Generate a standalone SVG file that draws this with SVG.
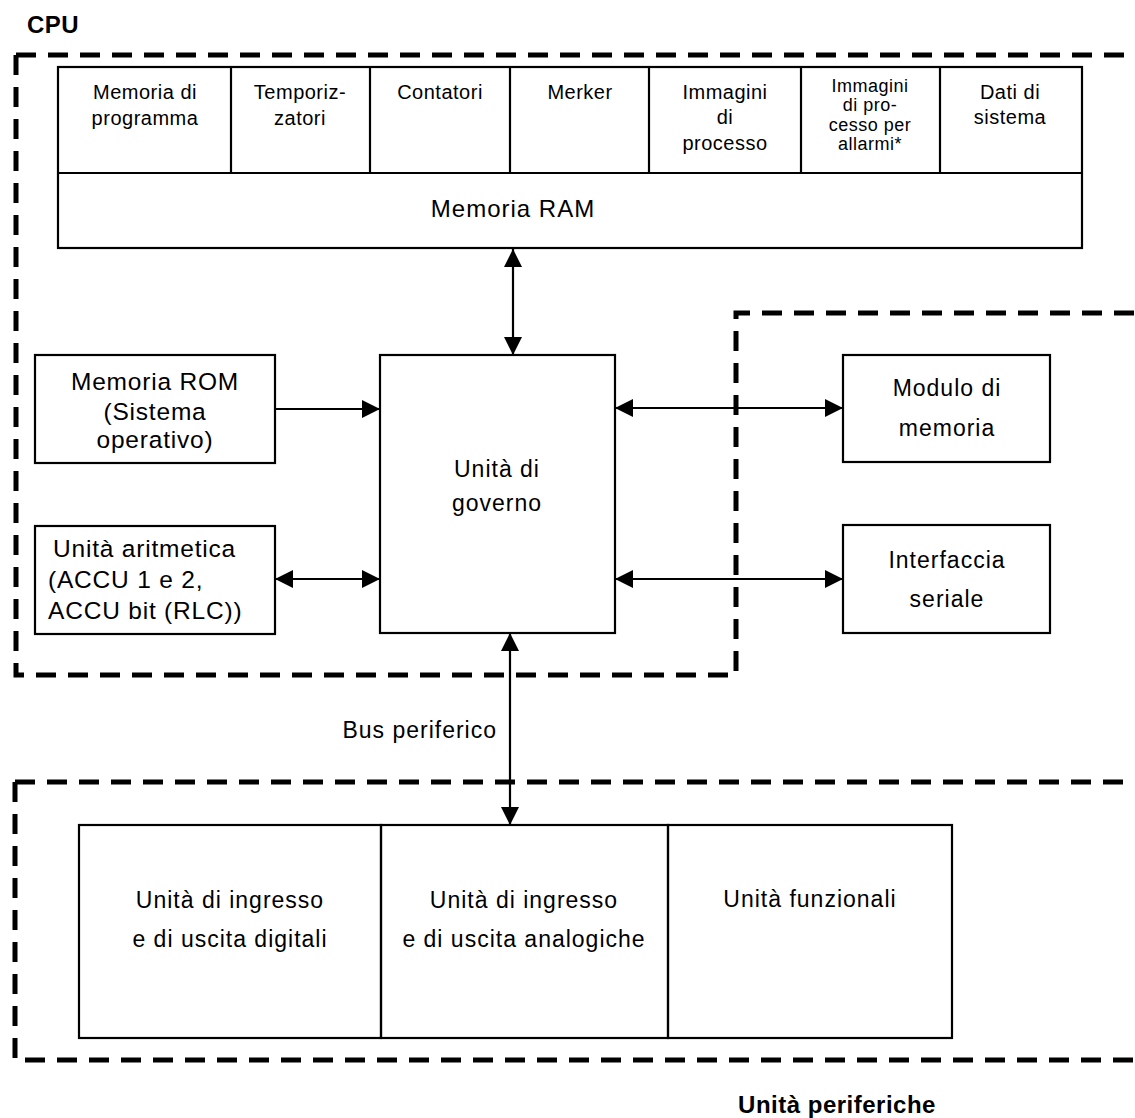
<svg xmlns="http://www.w3.org/2000/svg" width="1135" height="1118" viewBox="0 0 1135 1118">
<style>
  .box{fill:none;stroke:#000;stroke-width:2.2}
  .dash{fill:none;stroke:#000;stroke-width:5;stroke-dasharray:20 12}
  .con{fill:none;stroke:#000;stroke-width:2.2}
  text{font-family:"Liberation Sans",Arial,Helvetica,sans-serif;fill:#000;letter-spacing:0.5px}
  .s19{font-size:20px;text-anchor:middle}
  .s18{font-size:18px;text-anchor:middle}
  .s23{font-size:23px;text-anchor:middle;letter-spacing:1px}
  .s24{font-size:24.5px;letter-spacing:0.8px}
  .b{font-weight:bold;font-size:24px}
</style>
<defs>
  <marker id="ah" markerUnits="userSpaceOnUse" markerWidth="18" markerHeight="18" viewBox="0 0 18 18" refX="18" refY="9" orient="auto-start-reverse">
    <path d="M0,0 L18,9 L0,18 z" fill="#000"/>
  </marker>
</defs>
<rect width="1135" height="1118" fill="#fff"/>

<g id="cpu-frame">
  <path class="dash" d="M16,55 H1135"/>
  <path class="dash" d="M16,55 V675 H736 V313 H1135"/>
  <text class="b" x="27" y="33">CPU</text>
</g>
<g id="periph-frame">
  <path class="dash" d="M15,782 H1135"/>
  <path class="dash" d="M15,782 V1060 H1135"/>
  <text class="b" x="837" y="1113" text-anchor="middle">Unità  periferiche</text>
</g>

<g id="ram">
  <rect class="box" x="58" y="67" width="1024" height="181"/>
  <line class="box" x1="58" y1="173" x2="1082" y2="173"/>
  <text class="s23" x="513" y="217" style="font-size:24px">Memoria RAM</text>
</g>
<g id="cell-programma">
  <text class="s19" x="145" y="99">Memoria di</text>
  <text class="s19" x="145" y="125">programma</text>
</g>
<g id="cell-temporizzatori">
  <line class="box" x1="231" y1="67" x2="231" y2="173"/>
  <text class="s19" x="300" y="99">Temporiz-</text>
  <text class="s19" x="300" y="125">zatori</text>
</g>
<g id="cell-contatori">
  <line class="box" x1="370" y1="67" x2="370" y2="173"/>
  <text class="s19" x="440" y="99">Contatori</text>
</g>
<g id="cell-merker">
  <line class="box" x1="510" y1="67" x2="510" y2="173"/>
  <text class="s19" x="580" y="99">Merker</text>
</g>
<g id="cell-immagini">
  <line class="box" x1="649" y1="67" x2="649" y2="173"/>
  <text class="s19" x="725" y="99">Immagini</text>
  <text class="s19" x="725" y="124">di</text>
  <text class="s19" x="725" y="150">processo</text>
</g>
<g id="cell-allarmi">
  <line class="box" x1="801" y1="67" x2="801" y2="173"/>
  <text class="s18" x="870" y="92">Immagini</text>
  <text class="s18" x="870" y="111">di pro-</text>
  <text class="s18" x="870" y="131">cesso per</text>
  <text class="s18" x="870" y="150">allarmi*</text>
</g>
<g id="cell-dati">
  <line class="box" x1="940" y1="67" x2="940" y2="173"/>
  <text class="s19" x="1010" y="99">Dati di</text>
  <text class="s19" x="1010" y="124">sistema</text>
</g>

<g id="rom">
  <rect class="box" x="35" y="355" width="240" height="108"/>
  <text class="s24" x="155" y="390" text-anchor="middle">Memoria ROM</text>
  <text class="s24" x="155" y="420" text-anchor="middle">(Sistema</text>
  <text class="s24" x="155" y="448" text-anchor="middle">operativo)</text>
</g>
<g id="aritmetica">
  <rect class="box" x="35" y="526" width="240" height="108"/>
  <text class="s24" x="53" y="557">Unità aritmetica</text>
  <text class="s24" x="48" y="588">(ACCU 1 e 2,</text>
  <text class="s24" x="48" y="619">ACCU bit (RLC))</text>
</g>
<g id="governo">
  <rect class="box" x="380" y="355" width="235" height="278"/>
  <text class="s23" x="497" y="477">Unità di</text>
  <text class="s23" x="497" y="511">governo</text>
</g>
<g id="modulo">
  <rect class="box" x="843" y="355" width="207" height="107"/>
  <text class="s23" x="947" y="396">Modulo di</text>
  <text class="s23" x="947" y="436">memoria</text>
</g>
<g id="interfaccia">
  <rect class="box" x="843" y="525" width="207" height="108"/>
  <text class="s23" x="947" y="568">Interfaccia</text>
  <text class="s23" x="947" y="607">seriale</text>
</g>

<g id="dig">
  <rect class="box" x="79" y="825" width="302" height="213"/>
  <text class="s23" x="230" y="908">Unità di ingresso</text>
  <text class="s23" x="230" y="947">e di uscita digitali</text>
</g>
<g id="ana">
  <rect class="box" x="381" y="825" width="287" height="213"/>
  <text class="s23" x="524" y="908">Unità di ingresso</text>
  <text class="s23" x="524" y="947">e di uscita analogiche</text>
</g>
<g id="fun">
  <rect class="box" x="668" y="825" width="284" height="213"/>
  <text class="s23" x="810" y="907">Unità funzionali</text>
</g>

<g id="connectors">
  <path class="con" d="M513,249 V355" marker-start="url(#ah)" marker-end="url(#ah)"/>
  <path class="con" d="M275,409 H380" marker-end="url(#ah)"/>
  <path class="con" d="M275,579 H380" marker-start="url(#ah)" marker-end="url(#ah)"/>
  <path class="con" d="M615,408 H843" marker-start="url(#ah)" marker-end="url(#ah)"/>
  <path class="con" d="M615,579 H843" marker-start="url(#ah)" marker-end="url(#ah)"/>
  <path class="con" d="M510,633 V825" marker-start="url(#ah)" marker-end="url(#ah)"/>
  <text class="s23" x="497" y="738" style="text-anchor:end">Bus periferico</text>
</g>
</svg>
